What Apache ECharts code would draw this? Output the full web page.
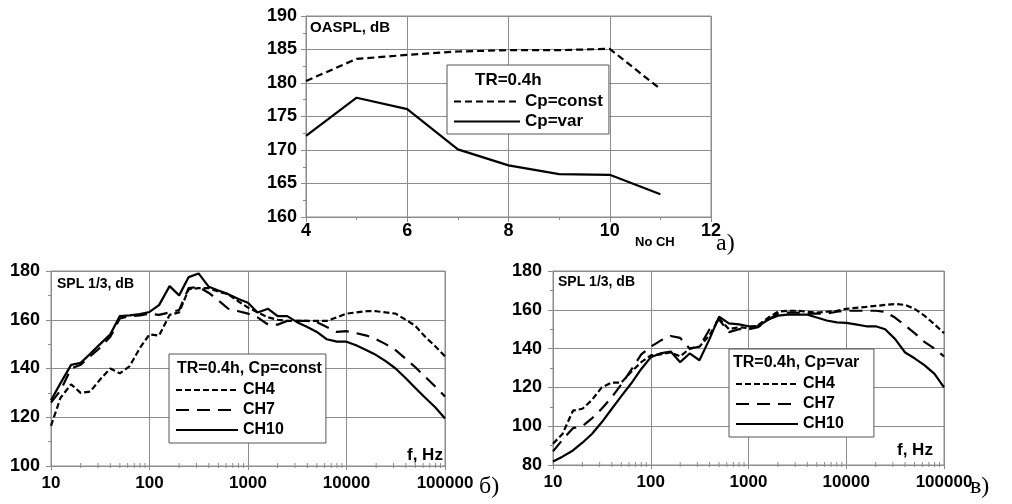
<!DOCTYPE html>
<html><head><meta charset="utf-8">
<script src="https://cdn.jsdelivr.net/npm/echarts@6/dist/echarts.min.js"></script>
<style>html,body{margin:0;padding:0;background:#fff}#c{width:1012px;height:504px}</style>
</head><body><div id="c"></div>
<script>
// ---- data ----
const NO_CH = [4, 5, 6, 7, 8, 9, 10, 11];
const OASPL_CONST = [180.3, 183.6, 184.2, 184.7, 184.9, 184.9, 185.1, 179.1];
const OASPL_VAR   = [172.1, 177.8, 176.1, 170.1, 167.7, 166.4, 166.3, 163.4];

const FREQ = [10,12.5,16,20,25,31.5,40,50,63,80,100,125,160,200,250,315,400,500,630,800,1000,1250,1600,2000,2500,3150,4000,5000,6300,8000,10000,12500,16000,20000,25000,31500,40000,50000,63000,80000,100000];

// panel б) TR=0.4h, Cp=const
const B_CH4  = [116.5,128,133.5,130,130.5,135.5,140,138,141,148.5,154,153.5,162,163,172.5,173,173,171.5,170.5,167.5,165,163,161,160,159.5,159.5,159.5,159.5,159.5,161,162.5,163,163.5,163.5,163,162.5,160,157.5,153,149,145];
const B_CH7  = [126,131,140,141.5,145,148.5,153,160.5,161.5,161.8,162.5,162,163,164,173,173.5,171,168,164.5,163.5,162.5,161,158,158,159.5,159.5,159.5,159,157,155,155.3,154.5,153.5,152,150,147.5,144,140.5,136.6,132.5,128.5];
const B_CH10 = [127,134,141.5,142.3,146,150,154,161.5,161.8,162.3,163.2,166,173.8,170,177.5,179,173.5,172,170.5,168.5,167,163,164.5,161.5,161.5,159,157,155,152,151,151,149.5,147.5,145.5,143,140,136,132,128,124,119.5];

// panel в) TR=0.4h, Cp=var
const V_CH4  = [91,96,108,109,113.5,120,122.5,122.5,128,133,136.5,137,138,136,140,141,147,155.5,150,151,150.5,152,156,159,159.5,159.5,159,158.5,159,159.5,160.5,161,161.5,162,162.5,163,162.5,160.5,157,152.5,148];
const V_CH7  = [87,93,99,100,104,109,115,121.5,129,137,141,144,146.5,145.5,140,141,150,155,148.5,150,150,151,155,158,158.5,158.5,158,158,158,159,159.5,159.5,159.5,159.5,159,156,152,148,143.5,140,136];
const V_CH10 = [81.8,84.3,87.5,91.5,96,102,109,115.5,122,129.5,135.5,137.5,138.5,133,137.5,134,145,156.5,153,152.5,151.5,151.5,155,157,157.5,157.5,157.5,156,154.5,153.5,153.3,152.5,151.5,151.5,150,145,138,135,131.5,127,120];

const LOG_DECADES = [10, 100, 1000, 10000];
const LOG_MINOR_MULT = [2, 3, 4, 5, 6, 7, 8, 9];

// ---- styles ----
const FONT = "'Liberation Sans', Arial, Helvetica, sans-serif";
const SERIF = "'Liberation Serif', 'Times New Roman', serif";
const GRIDC = '#8c8c8c';
const LINEW = 2.2;
const DASH_CH4 = [6, 3];
const DASH_CH7 = [13, 8];
const DASH_CONST = [7, 4];

const LOG_MINOR = [];
LOG_DECADES.forEach(d => LOG_MINOR_MULT.forEach(m => LOG_MINOR.push(d * m)));

function pairs(xs, ys) { return xs.map((x, i) => [x, ys[i]]); }

function valueAxisX(idx, min, max, interval) {
  return {
    type: 'value', gridIndex: idx, min, max, interval,
    axisLine: { show: true, lineStyle: { color: GRIDC, width: 1 } },
    axisTick: { show: true, length: 5, lineStyle: { color: GRIDC } },
    minorTick: { show: true, splitNumber: 2, length: 3, lineStyle: { color: GRIDC } },
    splitLine: { show: true, lineStyle: { color: GRIDC, width: 1 } },
    axisLabel: { fontSize: 18, fontWeight: 'bold', color: '#000', fontFamily: FONT, margin: 5 }
  };
}
function valueAxisY(idx, min, max, interval, fs, margin) {
  return {
    type: 'value', gridIndex: idx, min, max, interval,
    axisLine: { show: true, lineStyle: { color: GRIDC, width: 1 } },
    axisTick: { show: true, length: 5, lineStyle: { color: GRIDC } },
    minorTick: { show: true, splitNumber: 2, length: 3, lineStyle: { color: GRIDC } },
    splitLine: { show: true, lineStyle: { color: GRIDC, width: 1 } },
    axisLabel: { fontSize: fs, fontWeight: 'bold', color: '#000', fontFamily: FONT, margin }
  };
}
function logAxisX(idx) {
  return {
    type: 'log', logBase: 10, gridIndex: idx, min: 10, max: 100000,
    axisLine: { show: true, lineStyle: { color: GRIDC, width: 1 } },
    axisTick: { show: true, length: 4, lineStyle: { color: GRIDC } },
    splitLine: { show: true, lineStyle: { color: GRIDC, width: 1 } },
    axisLabel: { fontSize: 17, fontWeight: 'bold', color: '#000', fontFamily: FONT, margin: 9,
      formatter: v => String(Math.round(v)) }
  };
}
function line(name, xi, data, dash) {
  return {
    type: 'line', name, xAxisIndex: xi, yAxisIndex: xi, data, symbol: 'none', showSymbol: false,
    z: 2, lineStyle: { color: '#000', width: LINEW, type: dash || 'solid' },
    itemStyle: { color: '#000' }, emphasis: { disabled: true }
  };
}
function minorTicks(xi, yMin) {
  return {
    type: 'custom', xAxisIndex: xi, yAxisIndex: xi, silent: true, z: 3, clip: false,
    data: LOG_MINOR.map(f => [f, yMin]),
    renderItem: (p, api) => {
      const c = api.coord([api.value(0), api.value(1)]);
      return { type: 'line', shape: { x1: c[0], y1: c[1] - 3, x2: c[0], y2: c[1] + 2 },
        style: { stroke: GRIDC, lineWidth: 1 } };
    }
  };
}
const legendText = (fs) => ({ fontSize: fs, fontWeight: 'bold', color: '#000', fontFamily: FONT });
const titleText = (fs) => ({ fontSize: fs, fontWeight: 'bold', color: '#000', fontFamily: FONT });
function gtext(text, x, y, font) {
  return { type: 'text', x, y, silent: true, z: 10,
    style: { text, font, fill: '#000', verticalAlign: 'middle', textVerticalAlign: 'middle' } };
}
function legendBox(left, top, names, itemWidth, fs, padding) {
  return { orient: 'vertical', left, top, data: names, itemWidth, itemHeight: 14, itemGap: fs >= 17 ? 3 : 4,
    padding, borderColor: '#555', borderWidth: 1, backgroundColor: '#fff', selectedMode: false,
    itemStyle: { color: 'transparent', borderColor: 'transparent', borderWidth: 0, opacity: 0 },
    textStyle: legendText(fs) };
}

const chart = echarts.init(document.getElementById('c'), null, { renderer: 'canvas' });
chart.setOption({
  animation: false,
  backgroundColor: '#fff',
  tooltip: { show: false },
  grid: [
    { left: 306, top: 16, width: 405, height: 201, containLabel: false, outerBoundsMode: 'none', show: true, borderColor: GRIDC, borderWidth: 1 },
    { left: 51, top: 271, width: 394, height: 195, containLabel: false, outerBoundsMode: 'none', show: true, borderColor: GRIDC, borderWidth: 1 },
    { left: 553, top: 271, width: 391, height: 194, containLabel: false, outerBoundsMode: 'none', show: true, borderColor: GRIDC, borderWidth: 1 }
  ],
  xAxis: [ valueAxisX(0, 4, 12, 2), logAxisX(1), logAxisX(2) ],
  yAxis: [ valueAxisY(0, 160, 190, 5, 18, 9), valueAxisY(1, 100, 180, 20, 18, 11), valueAxisY(2, 80, 180, 20, 18, 11) ],
  title: [
    { text: 'TR=0.4h', left: 475, top: 72, padding: 0, textStyle: titleText(17) },
    { text: 'TR=0.4h, Cp=const', left: 177, top: 361, padding: 0, textStyle: titleText(16) },
    { text: 'TR=0.4h, Cp=var', left: 733, top: 355, padding: 0, textStyle: titleText(16) }
  ],
  legend: [
    legendBox(447, 65, ['Cp=const', 'Cp=var'], 66, 17, [28, 6, 4, 6]),
    legendBox(169, 354, ['CH4', 'CH7', 'CH10'], 62, 16, [28, 42, 5, 6]),
    legendBox(729, 349, ['CH4', 'CH7', 'CH10'], 62, 16, [27, 30, 5, 6])
  ],
  series: [
    line('Cp=const', 0, pairs(NO_CH, OASPL_CONST), DASH_CONST),
    line('Cp=var', 0, pairs(NO_CH, OASPL_VAR)),
    line('CH4', 1, pairs(FREQ, B_CH4), DASH_CH4),
    line('CH7', 1, pairs(FREQ, B_CH7), DASH_CH7),
    line('CH10', 1, pairs(FREQ, B_CH10)),
    line('CH4', 2, pairs(FREQ, V_CH4), DASH_CH4),
    line('CH7', 2, pairs(FREQ, V_CH7), DASH_CH7),
    line('CH10', 2, pairs(FREQ, V_CH10)),
    minorTicks(1, 100),
    minorTicks(2, 80)
  ],
  graphic: [
    gtext('OASPL, dB', 310, 28, 'bold 15px ' + FONT),
    gtext('No CH', 635, 242, 'bold 13px ' + FONT),
    gtext('а)', 716, 244, '24px ' + SERIF),
    gtext('SPL 1/3, dB', 57, 284, 'bold 14px ' + FONT),
    gtext('SPL 1/3, dB', 558, 282, 'bold 14px ' + FONT),
    gtext('f, Hz', 407, 455, 'bold 17px ' + FONT),
    gtext('f, Hz', 897, 450, 'bold 17px ' + FONT),
    gtext('б)', 479, 487, '24px ' + SERIF),
    gtext('в)', 970, 487, '24px ' + SERIF)
  ]
});
</script>
</body></html>
